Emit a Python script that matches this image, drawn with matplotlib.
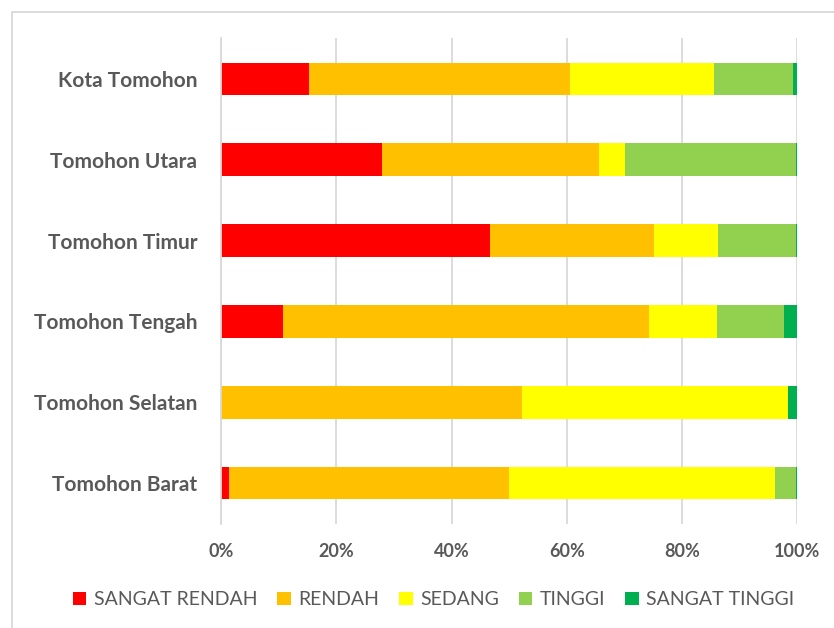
import matplotlib.pyplot as plt
from matplotlib.patches import Rectangle
from matplotlib.ticker import PercentFormatter

# kecamatan (dari bawah ke atas, urutan sumbu y)
wilayah = ['Tomohon Barat', 'Tomohon Selatan', 'Tomohon Tengah',
           'Tomohon Timur', 'Tomohon Utara', 'Kota Tomohon']

# persentase tiap kelas
sangat_rendah = [1.4, 0.0, 10.7, 46.7, 27.9, 15.2]
rendah = [48.5, 52.3, 63.6, 28.5, 37.7, 45.4]
sedang = [46.2, 46.1, 11.8, 11.1, 4.5, 24.9]
tinggi = [3.6, 0.0, 11.6, 13.5, 29.6, 13.7]
sangat_tinggi = [0.3, 1.6, 2.3, 0.2, 0.3, 0.8]

kelas = ['SANGAT RENDAH', 'RENDAH', 'SEDANG', 'TINGGI', 'SANGAT TINGGI']
nilai = [sangat_rendah, rendah, sedang, tinggi, sangat_tinggi]
warna = ['#FF0000', '#FFC000', '#FFFF00', '#92D050', '#00B050']

plt.rcParams['font.family'] = ['Lato', 'DejaVu Sans']

fig = plt.figure(figsize=(8.34, 6.28), dpi=100)
ax = fig.add_axes([0.265, 0.166, 0.691, 0.773])

# bingkai area grafik
fig.patches.append(Rectangle((12 / 834, -0.1), 1.2, 1 - 12 / 628 + 0.1,
                             transform=fig.transFigure, fill=False,
                             edgecolor='#d9d9d9', linewidth=1.3))

kiri = [0.0] * len(wilayah)
for nama, data, w in zip(kelas, nilai, warna):
    ax.barh(wilayah, data, left=kiri, height=0.4, color=w, label=nama,
            edgecolor='none')
    kiri = [a + b for a, b in zip(kiri, data)]

ax.set_xlim(0, 100)
ax.set_ylim(-0.5, len(wilayah) - 0.5)
ax.set_xticks(range(0, 101, 20))
ax.xaxis.set_major_formatter(PercentFormatter(decimals=0))
ax.grid(axis='x', color='#d9d9d9', linewidth=1.3)
ax.set_axisbelow(True)
for s in ['top', 'right', 'bottom']:
    ax.spines[s].set_visible(False)
ax.spines['left'].set_color('#d9d9d9')
ax.spines['left'].set_linewidth(1.3)
ax.tick_params(axis='both', length=0, colors='#595959')
ax.tick_params(axis='x', pad=14, labelsize=13)
ax.tick_params(axis='y', pad=17, labelsize=15)
for t in ax.get_xticklabels() + ax.get_yticklabels():
    t.set_fontweight('bold')

fig.legend(loc='center', bbox_to_anchor=(0.52, 0.045), ncol=5, frameon=False,
           fontsize=14, handlelength=0.7, handleheight=0.7,
           handletextpad=0.4, columnspacing=1.0, labelcolor='#595959')

fig.savefig('out.png', dpi=100)
